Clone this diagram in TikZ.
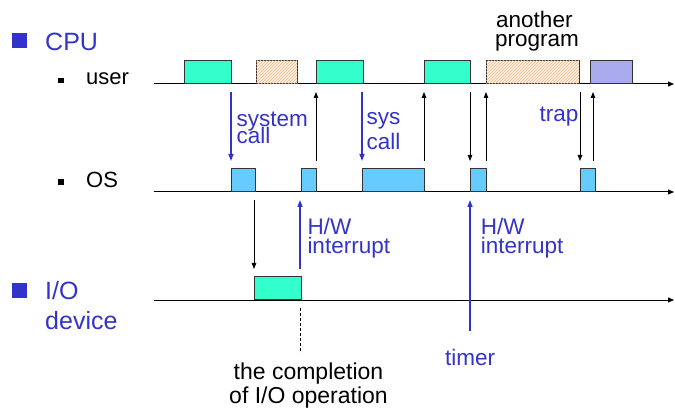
\documentclass[tikz,border=0pt]{standalone}
\usepackage{fontspec}
\setmainfont{Liberation Sans}
\usetikzlibrary{patterns,arrows.meta}
\definecolor{lblue}{HTML}{3333CC}
\definecolor{busy}{HTML}{33FFCC}
\definecolor{osbox}{HTML}{66CCFF}
\definecolor{other}{HTML}{AAAAEE}
\definecolor{edge}{HTML}{333333}
\definecolor{hatch}{HTML}{F5B888}
\definecolor{hatchbg}{HTML}{FFF1E4}
\begin{document}
\begin{tikzpicture}[x=1pt,y=-1pt,
  box/.style={draw=edge, line width=0.9pt, minimum height=23pt, inner sep=0, anchor=south west},
  userbox/.style={box, fill=busy},
  hatchbox/.style={box, fill=hatchbg, postaction={pattern=north east lines, pattern color=hatch}},
  osbx/.style={box, fill=osbox},
  otherbox/.style={box, fill=other},
  axis/.style={draw=black, line width=1pt, -{Triangle[length=6pt,width=5pt]}},
  blk/.style={draw=black, line width=0.9pt, -{Triangle[length=6pt,width=4.5pt]}},
  blu/.style={draw=lblue, line width=1.4pt, -{Triangle[length=7pt,width=5pt]}},
  lbl/.style={text=lblue, font=\fontsize{22.5}{20}\selectfont, inner sep=0, anchor=base west},
  txt/.style={text=black, font=\fontsize{22.5}{20}\selectfont, inner sep=0, anchor=base west},
  head/.style={text=lblue, font=\fontsize{25}{28}\selectfont, inner sep=0, anchor=base west},
  sub/.style={text=black, font=\fontsize{22}{26}\selectfont, inner sep=0, anchor=base west},
  bigbullet/.style={fill=lblue, draw=none, minimum size=15pt, inner sep=0},
  smallbullet/.style={fill=black, draw=none, minimum size=5.5pt, inner sep=0}
]
\useasboundingbox (0,0) rectangle (675,414);

% row headings
\node[bigbullet] (bcpu) at (19.5,40.5) {};
\node[head] (cpu) at (45,50.5) {CPU};
\node[smallbullet] (buser) at (61,80.5) {};
\node[sub] (user) at (86,85) {user};
\node[smallbullet] (bos) at (61,182) {};
\node[sub] (os) at (86,188) {OS};
\node[bigbullet] (bio) at (19.5,290.5) {};
\node[head] (io) at (45,299.5) {I/O};
\node[head] (dev) at (45,329.5) {device};

% time axes
\coordinate (ua0) at (154,84);  \coordinate (ua1) at (674,84);
\coordinate (oa0) at (154,192); \coordinate (oa1) at (674,192);
\coordinate (ia0) at (154,300); \coordinate (ia1) at (674,300);
\draw[axis] (ua0) -- (ua1);
\draw[axis] (oa0) -- (oa1);
\draw[axis] (ia0) -- (ia1);

% user-mode activity
\node[userbox, minimum width=47pt] (u1) at (184,84) {};
\node[hatchbox, minimum width=41pt] (u2) at (256,84) {};
\node[userbox, minimum width=47pt] (u3) at (315.5,84) {};
\node[userbox, minimum width=46pt] (u4) at (424,84) {};
\node[hatchbox, minimum width=92.5pt] (u5) at (486,84) {};
\node[otherbox, minimum width=41.5pt] (u6) at (590,84) {};

% kernel activity
\node[osbx, minimum width=23.5pt] (k1) at (231,192) {};
\node[osbx, minimum width=15pt] (k2) at (300.5,192) {};
\node[osbx, minimum width=62pt] (k3) at (362,192) {};
\node[osbx, minimum width=16pt] (k4) at (470,192) {};
\node[osbx, minimum width=15pt] (k5) at (580,192) {};

% device activity
\node[userbox, minimum width=46.5pt] (d1) at (254,300) {};

% transitions between user and kernel mode
\foreach \n/\x in {a/231,b/316,c/362,d/424,e/470,f/486,g/580,h/593}{
  \coordinate (\n top) at (\x,92);
  \coordinate (\n bot) at (\x,161);
}
\draw[blu] (atop) -- (abot);
\draw[blk] (bbot) -- (btop);
\draw[blu] (ctop) -- (cbot);
\draw[blk] (dbot) -- (dtop);
\draw[blk] (etop) -- (ebot);
\draw[blk] (fbot) -- (ftop);
\draw[blk] (gtop) -- (gbot);
\draw[blk] (hbot) -- (htop);

% kernel and device
\coordinate (iostart) at (254,200);
\coordinate (ioin) at (254,269);
\coordinate (irqsrc) at (300,269);
\coordinate (irqdst) at (300,200);
\coordinate (tmsrc) at (470,331);
\coordinate (tmdst) at (470,200);
\coordinate (dash0) at (300,308);
\coordinate (dash1) at (300,353);
\draw[blk] (iostart) -- (ioin);
\draw[blu] (irqsrc) -- (irqdst);
\draw[blu] (tmsrc) -- (tmdst);
\draw[black, line width=0.8pt, dash pattern=on 3pt off 2pt] (dash0) -- (dash1);

% labels
\node[lbl] (l1a) at (236.5,126.5) {system};
\node[lbl] (l1b) at (236.5,144) {call};
\node[lbl] (l2a) at (366.5,124.3) {sys};
\node[lbl] (l2b) at (366.5,150) {call};
\node[lbl] (l3) at (539.3,121.7) {trap};
\node[txt] (l4a) at (496,28) {another};
\node[txt] (l4b) at (495,46.7) {program};
\node[lbl] (l5a) at (307.3,234.3) {H/W};
\node[lbl] (l5b) at (307.3,253.3) {interrupt};
\node[lbl] (l6a) at (480.7,234.3) {H/W};
\node[lbl] (l6b) at (480.7,253.3) {interrupt};
\node[lbl] (l7) at (445,365) {timer};
\node[txt, anchor=base, font=\fontsize{23}{26}\selectfont] (l8a) at (308.5,379.5) {the completion};
\node[txt, anchor=base, font=\fontsize{23}{26}\selectfont] (l8b) at (308.5,403.3) {of I/O operation};
\end{tikzpicture}
\end{document}
